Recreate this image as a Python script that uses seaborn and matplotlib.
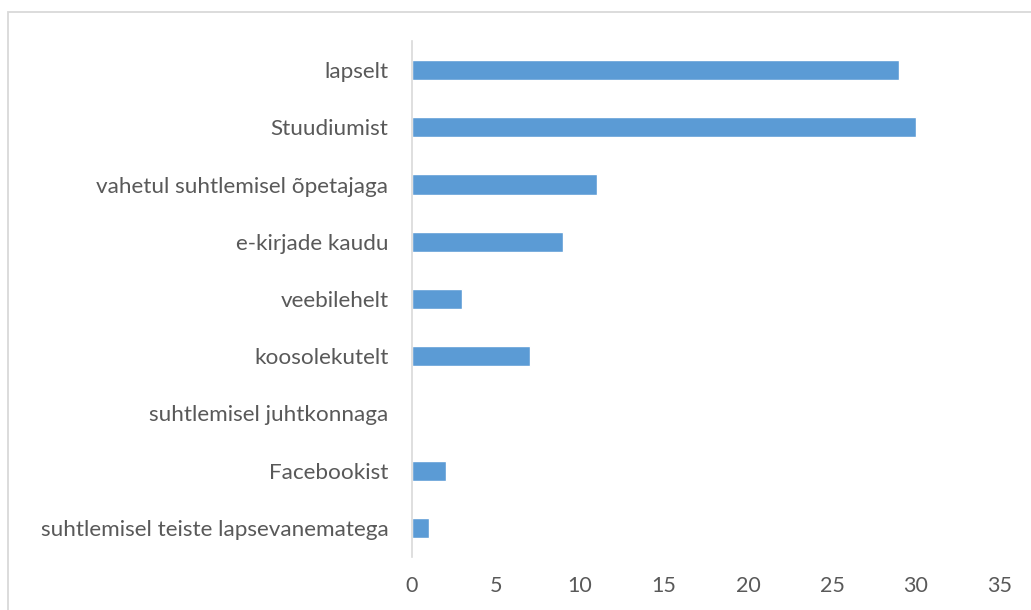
import matplotlib
matplotlib.use("Agg")
import matplotlib.pyplot as plt
import seaborn as sns
import pandas as pd
from matplotlib.patches import Rectangle

categories = ["lapselt", "Stuudiumist", "vahetul suhtlemisel õpetajaga", "e-kirjade kaudu",
              "veebilehelt", "koosolekutelt", "suhtlemisel juhtkonnaga", "Facebookist",
              "suhtlemisel teiste lapsevanematega"]
values = [29, 30, 11, 9, 3, 7, 0, 2, 1]
xticks = [0, 5, 10, 15, 20, 25, 30, 35]

sns.set_theme(style="white")
plt.rcParams['font.family'] = ['Lato', 'DejaVu Sans']

df = pd.DataFrame({"cat": categories, "val": values})

fig = plt.figure(figsize=(10.31, 6.10), dpi=100)
ax = fig.add_axes([412/1031, 1-556.6/610, 588/1031, (556.6-41.4)/610])

sns.barplot(data=df, y="cat", x="val", orient="h", color="#5B9BD5", width=0.35,
            saturation=1, ax=ax)

ax.set_xlim(0, 35)
ax.set_ylim(len(categories)-0.5, -0.5)
ax.set_xticks(xticks)
ax.set_xticklabels([str(t) for t in xticks])
ax.set_xlabel("")
ax.set_ylabel("")
for s in ["top", "right", "bottom"]:
    ax.spines[s].set_visible(False)
ax.spines["left"].set_color("#D9D9D9")
ax.spines["left"].set_linewidth(1.2)
ax.tick_params(axis="x", length=0, pad=14, labelsize=15.5, labelcolor="#595959")
ax.tick_params(axis="y", length=0, pad=17, labelsize=16.2, labelcolor="#595959")

fig.patches.append(Rectangle((7.5/1031, -0.1), 1.2, 1-12.5/610+0.1, transform=fig.transFigure,
                             fill=False, edgecolor="#D9D9D9", linewidth=1.3))

fig.savefig("out.png", dpi=100)
